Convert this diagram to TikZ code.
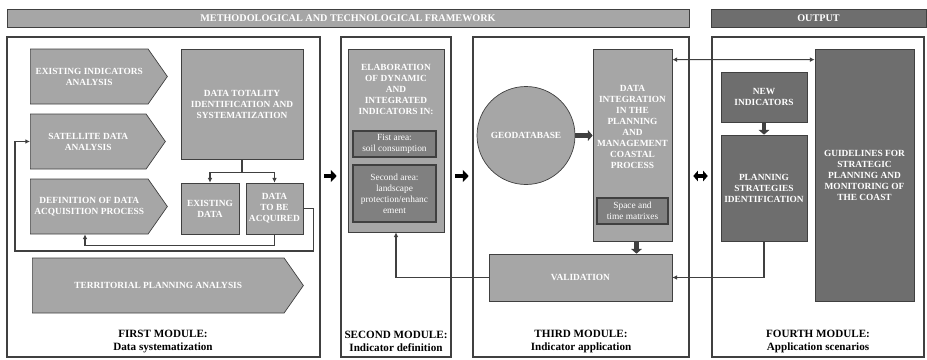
\documentclass[tikz,border=0pt]{standalone}
\usepackage{fontspec}
\setmainfont{Liberation Serif}
\usetikzlibrary{shapes.symbols,shapes.geometric,arrows.meta}

\definecolor{lightg}{HTML}{A6A6A6}
\definecolor{midg}{HTML}{808080}
\definecolor{darkg}{HTML}{6E6E6E}
\definecolor{lineg}{HTML}{404040}

\tikzset{
  box/.style={draw=lineg, fill=lightg, text=white, line width=0.6pt, align=center,
    inner sep=1pt, font=\bfseries\fontsize{8}{9.4}\selectfont},
  darkbox/.style={box, fill=darkg},
  areabox/.style={box, fill=midg, line width=0.9pt, font=\fontsize{8}{9.4}\selectfont},
  sig/.style={box, shape=signal, signal to=east, signal pointer angle=110, anchor=west},
  wtext/.style={text=white, align=center, inner sep=0pt, font=\bfseries\fontsize{8}{9.4}\selectfont},
  frame/.style={draw=lineg, line width=1.6pt, rectangle, inner sep=0pt, minimum height=9.6cm},
  band/.style={draw=lineg, text=white, line width=0.6pt, minimum height=0.54cm,
    font=\bfseries\fontsize{8.7}{9}\selectfont},
  modlabel/.style={align=center, inner sep=0pt, font=\bfseries\fontsize{9.5}{11}\selectfont},
  conn/.style={draw=lineg, line width=0.9pt, ->},
  fatarr/.style={draw=lineg, line width=3.5pt, -{Triangle[length=4pt,width=9pt]}},
  modarr/.style={black, line width=3.5pt, -{Triangle[length=5pt,width=10pt]},
    shorten <=0.1cm, shorten >=0.1cm},
}

\begin{document}
\begin{tikzpicture}[x=0.03cm, y=-0.03cm, >={Latex[length=4pt,width=4pt]}]
  \useasboundingbox (0,0) rectangle (927,359);

  % top bands
  \node[band, fill=lightg, minimum width=20.46cm] (frameband) at (348,18)
    {METHODOLOGICAL AND TECHNOLOGICAL FRAMEWORK};
  \node[band, fill=darkg, minimum width=6.45cm] (outband) at (818.5,18) {OUTPUT};

  % module frames
  \node[frame, minimum width=9.39cm] (m1) at (163.5,197) {};
  \node[frame, minimum width=3.3cm] (m2) at (396,197) {};
  \node[frame, minimum width=6.48cm] (m3) at (581,197) {};
  \node[frame, minimum width=6.36cm] (m4) at (818,197) {};

  % first module
  \node[sig, minimum width=4.11cm, minimum height=1.65cm] (A1) at (30,76.5)
    {EXISTING INDICATORS\\ANALYSIS};
  \node[sig, minimum width=4.05cm, minimum height=1.65cm] (A2) at (30,141.5)
    {SATELLITE DATA\\ANALYSIS};
  \node[sig, minimum width=4.11cm, minimum height=1.65cm] (A3) at (30,206.5)
    {DEFINITION OF DATA\\ACQUISITION PROCESS};
  \node[sig, minimum width=8.13cm, minimum height=1.65cm] (T) at (32,285.5)
    {TERRITORIAL PLANNING ANALYSIS};
  \node[box, minimum width=3.66cm, minimum height=3.3cm] (D) at (242,104)
    {DATA TOTALITY\\IDENTIFICATION AND\\SYSTEMATIZATION};
  \node[box, minimum width=1.74cm, minimum height=1.53cm] (E) at (210,208.5)
    {EXISTING\\DATA};
  \node[box, minimum width=1.71cm, minimum height=1.53cm] (Q) at (274.5,208.5)
    {DATA\\TO BE\\ACQUIRED};
  \coordinate (loopc) at (15,251);

  \draw[conn] (D.south) -- ++(0,13) -| (E.north);
  \draw[conn] (D.south) -- ++(0,13) -| (Q.north);
  \draw[conn] (Q.south) -- ++(0,11) -| (A3.south -| 85,0);
  \draw[conn] (Q.east) -- ++(10,0) |- (loopc) |- (A2.west);

  \node[modlabel] (m1lab) at (163,341.5) {FIRST MODULE:\\Data systematization};

  % second module
  \node[box, minimum width=2.88cm, minimum height=5.49cm] (EL) at (396,140.5) {};
  \node[wtext] (ELtxt) at (396,89)
    {ELABORATION\\OF DYNAMIC\\AND\\INTEGRATED\\INDICATORS IN:};
  \node[areabox, minimum width=2.49cm, minimum height=0.78cm] (F1) at (394.5,144)
    {Fist area:\\soil consumption};
  \node[areabox, minimum width=2.49cm, minimum height=1.71cm] (F2) at (394.5,193.5)
    {Second area:\\landscape\\protection/enhanc\\ement};

  \node[modlabel] (m2lab) at (396,341.5) {SECOND MODULE:\\Indicator definition};

  % third module
  \node[box, circle, minimum size=2.94cm] (G) at (526,135.5) {GEODATABASE};
  \node[box, minimum width=2.37cm, minimum height=5.76cm] (DI) at (632.5,145) {};
  \node[wtext] (DItxt) at (632.5,127)
    {DATA\\INTEGRATION\\IN THE\\PLANNING\\AND\\MANAGEMENT\\COASTAL\\PROCESS};
  \node[areabox, minimum width=2.13cm, minimum height=0.78cm] (ST) at (632.5,211)
    {Space and\\time matrixes};
  \node[box, minimum width=5.49cm, minimum height=1.41cm] (V) at (580.5,277.5) {VALIDATION};

  \draw[fatarr] (G.east) -- (G.east -| DI.west);
  \draw[fatarr] ([xshift=0.12cm]DI.south) -- ([xshift=0.12cm]DI.south |- V.north);
  \draw[conn] (V.west) -| (EL.south);

  \node[modlabel] (m3lab) at (581,341.5) {THIRD MODULE:\\Indicator application};

  % fourth module
  \node[darkbox, minimum width=2.58cm, minimum height=1.5cm] (NI) at (764,97)
    {NEW\\INDICATORS};
  \node[darkbox, minimum width=2.58cm, minimum height=3.18cm] (PS) at (764,188)
    {PLANNING\\STRATEGIES\\IDENTIFICATION};
  \node[darkbox, minimum width=2.97cm, minimum height=7.56cm] (GL) at (864.5,175)
    {GUIDELINES FOR\\STRATEGIC\\PLANNING AND\\MONITORING OF\\THE COAST};

  \draw[fatarr] (NI.south) -- (PS.north);
  \draw[conn] (PS.south) |- (V.east);
  \draw[conn, <->] ([yshift=-0.33cm]DI.north east) -- ([yshift=-0.33cm]GL.north west);

  \node[modlabel] (m4lab) at (818,341.5) {FOURTH MODULE:\\Application scenarios};

  % arrows between modules
  \draw[modarr] ([yshift=0.63cm]m1.east) -- ([yshift=0.63cm]m2.west);
  \draw[modarr] ([yshift=0.63cm]m2.east) -- ([yshift=0.63cm]m3.west);
  \draw[modarr, line width=2.6pt, {Triangle[length=4pt,width=9pt]}-{Triangle[length=4pt,width=9pt]}]
    ([yshift=0.63cm]m3.east) -- ([yshift=0.63cm]m4.west);

\end{tikzpicture}
\end{document}
